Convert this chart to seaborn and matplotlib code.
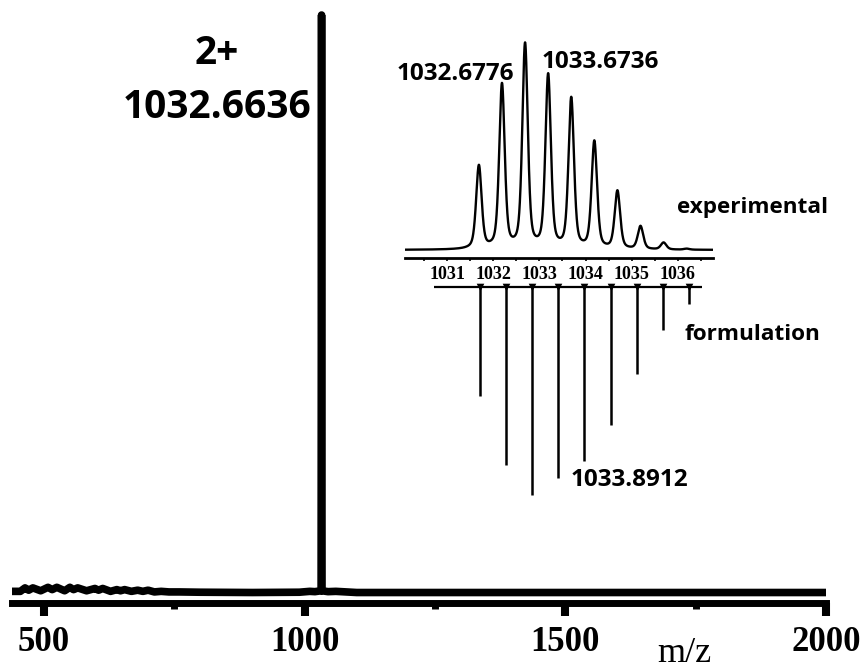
import numpy as np
import pandas as pd
import matplotlib
matplotlib.use("Agg")
import matplotlib.pyplot as plt
import seaborn as sns

# ---------------- data ----------------
# main spectrum (m/z, relative intensity)
main_mz = [439, 455, 464, 471, 479, 494, 508, 516, 525, 540, 550, 557, 565, 582,
           598, 605, 613, 628, 640, 647, 655, 668, 680, 690, 700, 712, 725, 740,
           760, 800, 900, 990, 1010, 1020, 1031.8, 1032.66, 1033.5, 1045, 1060,
           1080, 1100, 2000]
main_int = [0.2, 0.2, 0.8, 0.4, 0.8, 0.3, 0.9, 0.5, 0.9, 0.3, 0.9, 0.5, 0.8, 0.3,
            0.7, 0.4, 0.7, 0.2, 0.5, 0.3, 0.5, 0.2, 0.4, 0.2, 0.4, 0.1, 0.2, 0.1,
            0.1, 0.05, 0.0, 0.05, 0.2, 0.15, 0.3, 100, 0.3, 0.15, 0.2, 0.1, 0.0, 0.0]
main_ticks = [500, 1000, 1500, 2000]
main_minor = [750, 1250, 1750]

# experimental isotope pattern (peak centroids, heights)
exp_mz = [1031.69, 1032.19, 1032.69, 1033.19, 1033.69, 1034.19, 1034.69,
          1035.19, 1035.69, 1036.19]
exp_int = [40.7, 80.4, 100, 84.8, 73.5, 52.5, 28.4, 11.3, 3.4, 0.5]
exp_ticks = [1031, 1032, 1033, 1034, 1035, 1036]

# formulation (theoretical) isotope pattern
form_mz = [1031.69, 1032.19, 1032.69, 1033.19, 1033.69, 1034.19, 1034.69,
           1035.19, 1035.69]
form_int = [52.4, 85.6, 100, 91.8, 83.7, 66.3, 41.8, 20.7, 8.2]

W, H = 861, 670
sns.set_style("white")
plt.rcParams['font.family'] = ['Open Sans', 'DejaVu Sans']
plt.rcParams['text.color'] = 'black'
plt.rcParams['xtick.color'] = 'black'

fig = plt.figure(figsize=(W / 100, H / 100), dpi=100)

def rect(l, r, t, b):
    return [l / W, 1 - b / H, (r - l) / W, (b - t) / H]

# ---------------- main axes ----------------
ax = fig.add_axes(rect(12, 826, 10, 602.5))
ax.set_facecolor('none')
main_df = pd.DataFrame({'mz': main_mz, 'I': main_int})
sns.lineplot(data=main_df, x='mz', y='I', ax=ax, color='black', lw=5.5,
             solid_joinstyle='round', solid_capstyle='butt', sort=True,
             estimator=None)
ax.set_xlim(439, 2000)
ax.set_ylim(-1.73, 100.87)
for s in ['left', 'top', 'right']:
    ax.spines[s].set_visible(False)
ax.spines['bottom'].set_linewidth(5)
ax.spines['bottom'].set_color('black')
ax.set_yticks([])
ax.set_xticks(main_ticks)
ax.set_xticks(main_minor, minor=True)
ax.set_xticklabels([str(t) for t in main_ticks], family='Liberation Serif',
                   fontweight='bold', fontsize=25, color='black')
ax.tick_params(axis='x', which='major', direction='out', length=9, width=5.8,
               pad=8, colors='black', bottom=True)
ax.tick_params(axis='x', which='minor', direction='out', length=4.5, width=5,
               colors='black', bottom=True)
ax.set_xlabel('')
ax.set_ylabel('')

# ---------------- experimental inset ----------------
ax1 = fig.add_axes(rect(405, 713, 40, 258))
ax1.set_facecolor('none')
xl1 = (1030.09, 1036.76)
grid = np.linspace(xl1[0], xl1[1], 4000)
fwhm = 0.14
eta = 0.45
gam = fwhm / 2
sig = fwhm / 2.3548
prof = np.zeros_like(grid)
for m, h in zip(exp_mz, exp_int):
    lor = gam ** 2 / ((grid - m) ** 2 + gam ** 2)
    gau = np.exp(-0.5 * ((grid - m) / sig) ** 2)
    prof += h * (eta * lor + (1 - eta) * gau)
sns.lineplot(x=grid, y=prof, ax=ax1, color='black', lw=1.7, estimator=None)
ax1.set_xlim(*xl1)
ax1.set_ylim(-3.92, 102.9)
for s in ['left', 'top', 'right']:
    ax1.spines[s].set_visible(False)
ax1.spines['bottom'].set_linewidth(2)
ax1.spines['bottom'].set_color('black')
ax1.set_yticks([])
ax1.set_xticks(exp_ticks)
ax1.set_xticks([t + 0.5 for t in exp_ticks[:-1]] + [1030.5, 1036.5], minor=True)
ax1.set_xticklabels([str(t) for t in exp_ticks], family='Liberation Serif',
                    fontweight='bold', fontsize=13, color='black')
ax1.tick_params(axis='x', which='both', direction='out', length=2.5, width=1.2,
                pad=3, colors='black', bottom=True)

# ---------------- formulation inset ----------------
ax2 = fig.add_axes(rect(434, 702, 280, 500))
ax2.set_facecolor('none')
xl2 = (1030.81, 1035.94)
ax2.hlines(0, xl2[0], xl2[1], color='black', lw=1.6)
ax2.vlines(form_mz, 0, [-v for v in form_int], color='black', lw=1.8)
sns.scatterplot(x=form_mz, y=[0] * len(form_mz), ax=ax2, marker='v', s=30,
                color='black', linewidth=0)
ax2.set_xlim(*xl2)
ax2.set_ylim(-102.4, 3.37)
ax2.axis('off')

# ---------------- texts ----------------
def ftext(x, y, s, **kw):
    fig.text(x / W, 1 - y / H, s, ha='center', va='center', color='black', **kw)

ftext(217, 54, '2+', fontsize=28, fontweight='bold')
ftext(217, 107.5, '1032.6636', fontsize=28, fontweight='bold')
ftext(455, 74, '1032.6776', fontsize=17.5, fontweight='bold')
ftext(600, 62, '1033.6736', fontsize=17.5, fontweight='bold')
ftext(752, 208, 'experimental', fontsize=16.2, fontweight='bold')
ftext(752, 335, 'formulation', fontsize=16.2, fontweight='bold')
ftext(629, 480, '1033.8912', fontsize=17.5, fontweight='bold')
ftext(684, 653, 'm/z', fontsize=26, family='Liberation Serif')

fig.savefig('out.png', dpi=100)
